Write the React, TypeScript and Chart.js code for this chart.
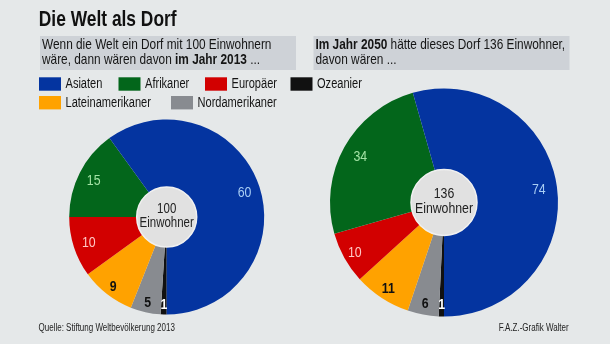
import React, { useEffect, useRef } from "react";
import { Chart, registerables } from "chart.js";

Chart.register(...registerables);

// ---------- data ----------
const categories = ["Asiaten", "Afrikaner", "Europäer", "Ozeanier", "Lateinamerikaner", "Nordamerikaner"];
const colors = ["#0434a0", "#03661b", "#d20000", "#111111", "#ffa200", "#888b90"];
const labelColors = ["#a9cdf4", "#a3e3a5", "#ffc7c4", "#ffffff", "#111111", "#111111"];
const labelBold = [false, false, false, true, true, true];
const values2013 = [60, 15, 10, 1, 9, 5];
const values2050 = [74, 34, 10, 1, 11, 6];
// slices are drawn clockwise starting at 6 o'clock
const sliceOrder = [3, 5, 4, 2, 1, 0];

const titleText = "Die Welt als Dorf";
const centerUnit = "Einwohner";
const intro2013 = [
  [{ t: "Wenn die Welt ein Dorf mit 100 Einwohnern" }],
  [{ t: "wäre, dann wären davon " }, { t: "im Jahr 2013", b: true }, { t: " ..." }],
];
const intro2050 = [
  [{ t: "Im Jahr 2050", b: true }, { t: " hätte dieses Dorf 136 Einwohner," }],
  [{ t: "davon wären ..." }],
];
const sourceText = "Quelle: Stiftung Weltbevölkerung 2013";
const creditText = "F.A.Z.-Grafik Walter";

// ---------- layout ----------
const W = 610;
const H = 344;
const FONT = "'Liberation Sans', Arial, sans-serif";
const SX = 0.79;
const BG = "#e5e8e9";
const BOX = "#ced2d7";
const PIE_L = { cx: 166.7, cy: 217, r: 97.5, hole: 30, centerSize: 14 };
const PIE_R = { cx: 444, cy: 202.5, r: 114, hole: 33, centerSize: 15 };
const legendPos = [
  [39, 84], [118.5, 84], [205, 84], [290.5, 84],
  [39, 102.7], [171, 102.7],
];

type Run = { t: string; b?: boolean };

function drawRuns(
  ctx: CanvasRenderingContext2D, runs: Run[], x: number, y: number, size: number,
  sx: number, align: "left" | "center" | "right", color: string, baseline: CanvasTextBaseline = "alphabetic"
) {
  ctx.save();
  ctx.translate(x, y);
  ctx.scale(sx, 1);
  ctx.fillStyle = color;
  ctx.textBaseline = baseline;
  ctx.textAlign = "left";
  let total = 0;
  const widths = runs.map((r) => {
    ctx.font = `${r.b ? "bold " : ""}${size}px ${FONT}`;
    const w = ctx.measureText(r.t).width;
    total += w;
    return w;
  });
  let cur = align === "left" ? 0 : align === "right" ? -total : -total / 2;
  runs.forEach((r, i) => {
    ctx.font = `${r.b ? "bold " : ""}${size}px ${FONT}`;
    ctx.fillText(r.t, cur, 0);
    cur += widths[i];
  });
  ctx.restore();
}

const pagePlugin = {
  id: "pageText",
  beforeDatasetsDraw(chart: any) {
    const ctx: CanvasRenderingContext2D = chart.ctx;
    // title
    drawRuns(ctx, [{ t: titleText, b: true }], 38.8, 26, 22, SX, "left", "#111");
    // intro boxes
    ctx.fillStyle = BOX;
    ctx.fillRect(40, 36, 256, 34);
    ctx.fillRect(313.5, 36, 256, 34);
    intro2013.forEach((line, i) => drawRuns(ctx, line, 42, 49 + i * 15, 15, SX, "left", "#151515"));
    intro2050.forEach((line, i) => drawRuns(ctx, line, 315.5, 49 + i * 15, 15, SX, "left", "#151515"));
    // legend
    categories.forEach((c, i) => {
      const [x, y] = legendPos[i];
      ctx.fillStyle = colors[i];
      ctx.fillRect(x, y - 6.7, 22, 13.4);
      drawRuns(ctx, [{ t: c }], x + 26.5, y + 0.5, 14, SX, "left", "#151515", "middle");
    });
    // footer
    drawRuns(ctx, [{ t: sourceText }], 38.5, 330.5, 10, 0.8, "left", "#222");
    drawRuns(ctx, [{ t: creditText }], 568.7, 330.5, 10, 0.8, "right", "#222");
  },
};

function makePiePlugin(values: number[], centerSize: number) {
  const total = values.reduce((a, b) => a + b, 0);
  return {
    id: "pieLabels",
    afterDatasetsDraw(chart: any) {
      const ctx: CanvasRenderingContext2D = chart.ctx;
      const meta = chart.getDatasetMeta(0);
      meta.data.forEach((arc: any, k: number) => {
        const idx = sliceOrder[k];
        const p = arc.getProps(["x", "y", "startAngle", "endAngle", "outerRadius"], true);
        const mid = (p.startAngle + p.endAngle) / 2;
        const share = values[idx] / total;
        const frac = share >= 0.1 ? 0.84 : 0.895;
        const lx = p.x + Math.cos(mid) * p.outerRadius * frac;
        const ly = p.y + Math.sin(mid) * p.outerRadius * frac;
        drawRuns(ctx, [{ t: String(values[idx]), b: labelBold[idx] }], lx, ly + 1, 14, 0.88, "center", labelColors[idx], "middle");
      });
      const a0 = meta.data[0].getProps(["x", "y", "innerRadius"], true);
      ctx.save();
      ctx.beginPath();
      ctx.arc(a0.x, a0.y, a0.innerRadius, 0, Math.PI * 2);
      ctx.fillStyle = "#e1e1e1";
      ctx.fill();
      ctx.lineWidth = 1.5;
      ctx.strokeStyle = "#f0f0f0";
      ctx.stroke();
      ctx.restore();
      const ls = centerSize;
      drawRuns(ctx, [{ t: String(total) }], a0.x, a0.y - ls * 0.5 - 1, ls, 0.82, "center", "#222", "middle");
      drawRuns(ctx, [{ t: centerUnit }], a0.x, a0.y + ls * 0.5 - 1, ls, 0.82, "center", "#222", "middle");
    },
  };
}

function makeConfig(values: number[], pie: typeof PIE_L, extraPlugins: any[]) {
  return {
    type: "doughnut" as const,
    data: {
      labels: sliceOrder.map((i) => categories[i]),
      datasets: [
        {
          data: sliceOrder.map((i) => values[i]),
          backgroundColor: sliceOrder.map((i) => colors[i]),
          borderWidth: 0,
        },
      ],
    },
    options: {
      responsive: false,
      animation: false as const,
      rotation: 180,
      cutout: pie.hole,
      layout: {
        padding: {
          left: pie.cx - pie.r,
          right: W - (pie.cx + pie.r),
          top: pie.cy - pie.r,
          bottom: H - (pie.cy + pie.r),
        },
      },
      plugins: { legend: { display: false }, tooltip: { enabled: false } },
      events: [],
    },
    plugins: [...extraPlugins, makePiePlugin(values, pie.centerSize)],
  };
}

export default function App() {
  const leftRef = useRef<HTMLCanvasElement>(null);
  const rightRef = useRef<HTMLCanvasElement>(null);

  useEffect(() => {
    const c1 = new Chart(leftRef.current!, makeConfig(values2013, PIE_L, [pagePlugin]) as any);
    const c2 = new Chart(rightRef.current!, makeConfig(values2050, PIE_R, []) as any);
    return () => {
      c1.destroy();
      c2.destroy();
    };
  }, []);

  const canvasStyle: React.CSSProperties = { position: "absolute", left: 0, top: 0, width: W, height: H };
  return (
    <div style={{ position: "fixed", left: 0, top: 0, width: W, height: H, background: BG, overflow: "hidden" }}>
      <canvas ref={leftRef} width={W} height={H} style={canvasStyle} />
      <canvas ref={rightRef} width={W} height={H} style={canvasStyle} />
    </div>
  );
}
